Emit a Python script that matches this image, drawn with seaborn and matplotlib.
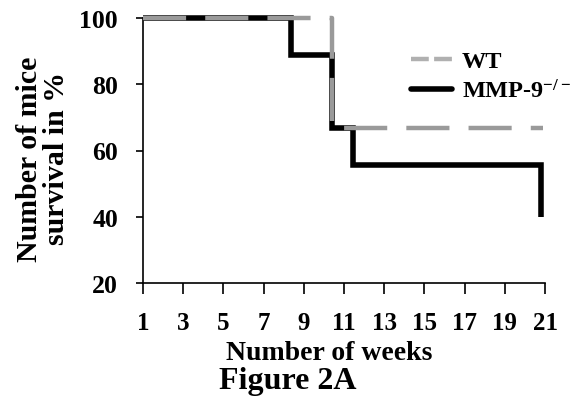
import matplotlib
matplotlib.use("Agg")
import matplotlib.pyplot as plt
from matplotlib.lines import Line2D
import seaborn as sns

# ---- data ----
wt_weeks = [1, 10.4, 20.9]
wt_survival = [100, 66.7, 66.7]
ko_weeks = [1, 8.35, 10.4, 11.45, 20.8]
ko_survival = [100, 88.9, 66.7, 55.6, 40]
series_labels = ["WT", "MMP-9$^{-/-}$"]
x_ticks = list(range(1, 22, 2))
y_ticks = [20, 40, 60, 80, 100]

sns.set_style("ticks")
plt.rcParams["font.family"] = ["Liberation Serif", "DejaVu Serif"]
plt.rcParams["font.weight"] = "bold"
plt.rcParams["mathtext.default"] = "regular"
for key in ("text.color", "axes.labelcolor", "xtick.color", "ytick.color",
            "axes.edgecolor"):
    plt.rcParams[key] = "black"

fig = plt.figure(figsize=(5.77, 4.10), dpi=100)
ax = fig.add_axes([143 / 577, 1 - 284 / 410, (545 - 143) / 577, (284 - 19) / 410])

grey = "#9a9a9a"
sns.lineplot(x=ko_weeks, y=ko_survival, ax=ax, color="black", lw=4.0,
             drawstyle="steps-post", legend=False, clip_on=False, zorder=3,
             solid_joinstyle="miter", solid_capstyle="butt", sort=False,
             estimator=None)
sns.lineplot(x=wt_weeks, y=wt_survival, ax=ax, color=grey, lw=3.2,
             drawstyle="steps-post", legend=False, clip_on=False, zorder=4,
             linestyle=(0, (9.7, 4.3)), sort=False, estimator=None)

ax.set_xlim(1, 21)
ax.set_ylim(20, 100)
ax.set_xticks(x_ticks)
ax.set_yticks(y_ticks)
sns.despine(ax=ax)
for sp in ("left", "bottom"):
    ax.spines[sp].set_linewidth(1.2)
    ax.spines[sp].set_color("black")
ax.tick_params(axis="y", direction="out", length=5, width=1.2, pad=13,
               labelsize=18.5, colors="black")
ax.tick_params(axis="x", direction="out", length=8, width=1.2, pad=12,
               labelsize=18, colors="black")
for lab in ax.get_xticklabels() + ax.get_yticklabels():
    lab.set_fontweight("bold")

ax.set_xlabel("Number of weeks", fontsize=20, fontweight="bold", va="center")
ax.xaxis.set_label_coords((329 - 143) / 402, (284 - 354) / 265)
ax.set_ylabel("Number of mice\nsurvival in %", fontsize=21.5, fontweight="bold",
              va="center", ha="center", linespacing=1.02)
ax.yaxis.set_label_coords((43 - 143) / 402, (284 - 159) / 265)

fig.text(288 / 577, 1 - 382 / 410, "Figure 2A", fontsize=23, fontweight="bold",
         ha="center", va="center")

handles = [Line2D([], [], color="#b0b0b0", lw=3.2, linestyle=(0, (4.0, 1.2))),
           Line2D([], [], color="black", lw=4.0)]
ax.legend(handles, series_labels, loc="upper left",
          bbox_to_anchor=(411 / 577, 1 - 51 / 410), bbox_transform=fig.transFigure,
          frameon=False, handlelength=1.7, handletextpad=0.4,
          labelspacing=0.3, borderpad=0, borderaxespad=0,
          prop={"weight": "bold", "size": 17.5})

fig.savefig("out.png", dpi=100)
